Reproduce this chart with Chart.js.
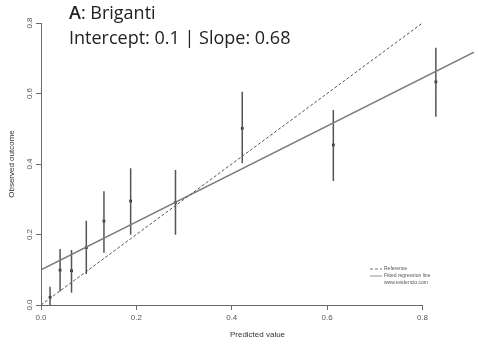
<!DOCTYPE html>
<html>
<head>
<meta charset="utf-8">
<script src="https://cdn.jsdelivr.net/npm/chart.js@4"></script>
<style>
  html, body { margin: 0; padding: 0; background: #fff; }
  #wrap { width: 478px; height: 344px; }
</style>
</head>
<body>
<div id="wrap"><canvas id="chart"></canvas></div>
<script>
// calibration groups: mean predicted risk, observed rate and its 95% CI
const predicted = [0.019, 0.040, 0.064, 0.095, 0.132, 0.188, 0.282, 0.422, 0.613, 0.828];
const observed  = [0.022, 0.099, 0.097, 0.163, 0.238, 0.295, 0.291, 0.501, 0.454, 0.633];
const ciLower   = [0.000, 0.038, 0.035, 0.088, 0.148, 0.199, 0.199, 0.402, 0.352, 0.534];
const ciUpper   = [0.052, 0.159, 0.156, 0.239, 0.323, 0.388, 0.383, 0.605, 0.553, 0.730];

const intercept = 0.1;
const slope = 0.68;
const axisTicks = [0, 0.2, 0.4, 0.6, 0.8];
const xMax = 0.908;

const titleName = 'Briganti';
const legendLabels = ['Reference', 'Fitted regression line'];
const legendNote = 'www.evidencio.com';

const axisGrey = '#6a6a6a';

// error bars as one line dataset broken by gaps
let whiskers = [];
predicted.forEach((x, i) => {
    whiskers.push({x: x, y: ciLower[i]});
    whiskers.push({x: x, y: ciUpper[i]});
    whiskers.push({x: x, y: null});
});

let points = predicted.map((x, i) => ({x: x, y: observed[i]}));

const calibTitle = {
    id: 'calibTitle',
    afterDraw(chart) {
        const ctx = chart.ctx;
        ctx.save();
        ctx.fillStyle = '#222';
        ctx.textBaseline = 'alphabetic';
        ctx.textAlign = 'left';
        ctx.font = '600 18px "Open Sans"';
        ctx.fillText('A', 69, 19);
        let w = ctx.measureText('A').width;
        ctx.font = '18px "Open Sans"';
        ctx.fillText(': ' + titleName, 69 + w, 19);
        ctx.fillText('Intercept: ' + intercept + ' | Slope: ' + slope, 69, 44);
        ctx.restore();
    }
};

// R-style x axis line that stops at the last tick, plus the small legend
const calibAxis = {
    id: 'calibAxis',
    afterDraw(chart) {
        const ctx = chart.ctx;
        const xs = chart.scales.x;
        const area = chart.chartArea;
        ctx.save();
        ctx.strokeStyle = axisGrey;
        ctx.lineWidth = 1;
        ctx.beginPath();
        ctx.moveTo(xs.getPixelForValue(axisTicks[0]), area.bottom + 0.5);
        ctx.lineTo(xs.getPixelForValue(axisTicks[axisTicks.length - 1]), area.bottom + 0.5);
        ctx.stroke();

        const sets = [chart.data.datasets[0], chart.data.datasets[1]];
        const lx = 370, tx = 384;
        let ly = 269;
        ctx.font = '5px "Liberation Sans"';
        ctx.textBaseline = 'middle';
        sets.forEach((ds, i) => {
            ctx.strokeStyle = ds.borderColor;
            ctx.lineWidth = 0.8;
            ctx.setLineDash(ds.borderDash || []);
            ctx.beginPath();
            ctx.moveTo(lx, ly);
            ctx.lineTo(lx + 12, ly);
            ctx.stroke();
            ctx.fillStyle = '#555';
            ctx.fillText(legendLabels[i], tx, ly);
            ly += 7;
        });
        ctx.setLineDash([]);
        ctx.fillText(legendNote, tx, ly);
        ctx.restore();
    }
};

const tickFont = {family: '"Liberation Sans"', size: 8};

new Chart(document.getElementById('chart').getContext('2d'), {
    type: 'scatter',
    data: {
        datasets: [
            {
                type: 'line',
                label: legendLabels[0],
                data: [{x: 0, y: 0}, {x: 0.8, y: 0.8}],
                borderColor: '#555',
                borderWidth: 1,
                borderDash: [3, 2],
                pointRadius: 0
            },
            {
                type: 'line',
                label: legendLabels[1],
                data: [{x: 0, y: intercept}, {x: xMax, y: intercept + slope * xMax}],
                borderColor: '#7a7a7a',
                borderWidth: 1.4,
                pointRadius: 0
            },
            {
                type: 'line',
                label: 'CI',
                data: whiskers,
                borderColor: '#555',
                borderWidth: 1.5,
                pointRadius: 0,
                spanGaps: false
            },
            {
                label: 'Observed',
                data: points,
                pointStyle: 'rect',
                pointRadius: 1.9,
                backgroundColor: '#111',
                borderWidth: 0
            }
        ]
    },
    options: {
        responsive: true,
        maintainAspectRatio: false,
        animation: false,
        layout: {padding: {top: 23, right: 0, left: 0, bottom: 0}},
        plugins: {
            legend: {display: false},
            tooltip: {enabled: false}
        },
        scales: {
            x: {
                type: 'linear',
                min: 0,
                max: xMax,
                afterBuildTicks: scale => { scale.ticks = axisTicks.map(v => ({value: v})); },
                afterFit: scale => { scale.height = 39; },
                grid: {drawOnChartArea: false, tickLength: 5, color: axisGrey},
                border: {display: false},
                ticks: {
                    font: tickFont,
                    color: '#555',
                    padding: 3,
                    maxRotation: 0,
                    callback: v => v.toFixed(1)
                },
                title: {
                    display: true,
                    text: 'Predicted value',
                    font: {family: '"Liberation Sans"', size: 8},
                    color: '#333',
                    padding: {top: 0, bottom: 4}
                }
            },
            y: {
                min: 0,
                max: 0.8,
                afterBuildTicks: scale => { scale.ticks = axisTicks.map(v => ({value: v})); },
                afterFit: scale => { scale.width = 41; },
                grid: {drawOnChartArea: false, tickLength: 5, color: axisGrey},
                border: {display: true, color: axisGrey, width: 1},
                ticks: {
                    font: tickFont,
                    color: '#555',
                    padding: 1,
                    minRotation: 90,
                    maxRotation: 90,
                    crossAlign: 'center',
                    callback: v => v.toFixed(1)
                },
                title: {
                    display: true,
                    text: 'Observed outcome',
                    font: {family: '"Liberation Sans"', size: 8},
                    color: '#333',
                    padding: {top: 7, bottom: 0}
                }
            }
        }
    },
    plugins: [calibTitle, calibAxis]
});
</script>
</body>
</html>
